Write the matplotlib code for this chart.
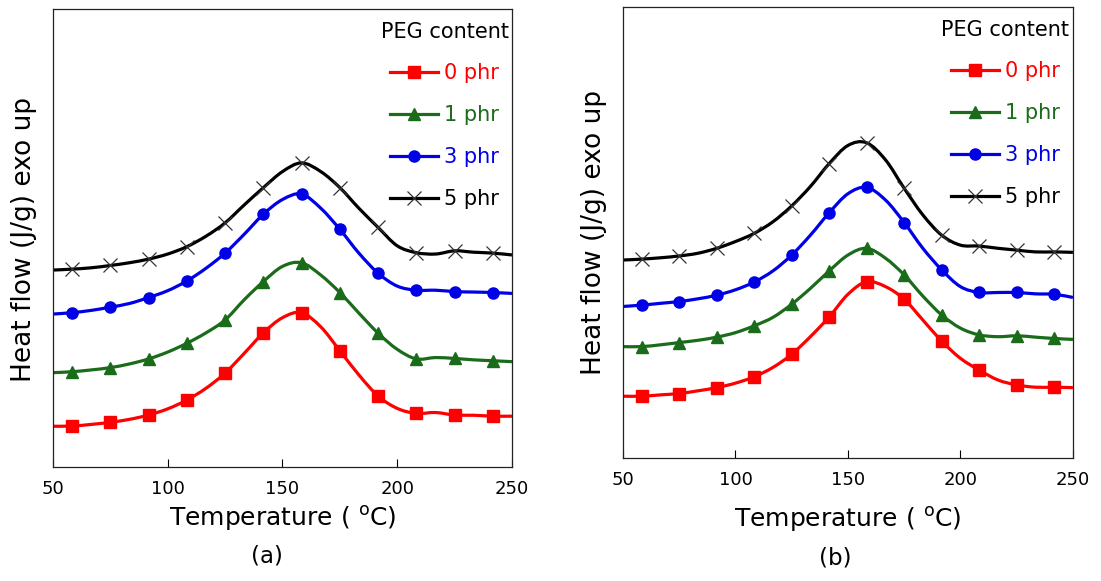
import matplotlib
matplotlib.use("Agg")
import matplotlib.pyplot as plt
from matplotlib.path import Path
from matplotlib.patches import PathPatch

plt.rcParams['font.family'] = ['DejaVu Sans']
plt.rcParams['mathtext.default'] = 'regular'

# temperature grid (markers sit on every other point)
temp = [50, 58.3, 66.7, 75, 83.3, 91.7, 100, 108.3, 116.7, 125, 133.3, 141.7, 150,
        158.3, 166.7, 175, 183.3, 191.7, 200, 208.3, 216.7, 225, 233.3, 241.7, 250]

labels = ['0 phr', '1 phr', '3 phr', '5 phr']

# panel (a), arbitrary heat-flow units (axis runs 0..100)
a_0phr = [8.9, 8.95, 9.3, 9.76, 10.4, 11.35, 12.7, 14.6, 17.2, 20.5, 24.8, 29.3, 32.6,
          33.7, 30.6, 25.4, 20.1, 15.5, 12.8, 11.7, 11.9, 11.35, 11.3, 11.1, 11.1]
a_1phr = [20.6, 20.8, 21.2, 21.7, 22.5, 23.6, 25.1, 27.0, 29.3, 32.1, 36.5, 40.5, 43.8,
          44.6, 41.9, 38.1, 33.6, 29.2, 25.7, 23.6, 23.9, 23.7, 23.4, 23.2, 23.0]
a_3phr = [33.4, 33.7, 34.2, 34.9, 35.7, 37.0, 38.5, 40.6, 43.4, 46.7, 50.8, 55.2, 58.4,
          59.6, 56.5, 51.9, 46.7, 42.3, 39.5, 38.6, 38.6, 38.3, 38.2, 38.1, 37.9]
a_5phr = [43.0, 43.2, 43.5, 44.0, 44.6, 45.4, 46.5, 48.1, 50.4, 53.3, 57.2, 61.0, 64.5,
          66.4, 64.5, 61.0, 56.5, 52.3, 48.3, 46.8, 46.5, 47.2, 46.9, 46.7, 46.3]

# panel (b)
b_0phr = [13.7, 13.7, 14.0, 14.3, 14.9, 15.6, 16.6, 18.0, 20.1, 23.0, 26.9, 31.3, 36.3,
          39.1, 38.0, 35.2, 30.6, 25.9, 22.1, 19.5, 17.3, 16.2, 15.7, 15.7, 15.6]
b_1phr = [24.7, 24.7, 25.1, 25.6, 26.1, 26.8, 27.8, 29.3, 31.2, 34.1, 37.6, 41.5, 45.0,
          46.5, 44.3, 40.6, 35.9, 31.7, 28.8, 27.3, 26.9, 27.1, 26.8, 26.5, 26.3]
b_3phr = [33.6, 33.9, 34.3, 34.7, 35.3, 36.1, 37.3, 39.0, 41.5, 45.0, 49.4, 54.4, 58.6,
          60.0, 57.2, 52.2, 46.5, 41.7, 38.0, 36.7, 36.7, 36.7, 36.4, 36.3, 35.6]
b_5phr = [43.9, 44.1, 44.4, 44.8, 45.4, 46.5, 48.0, 49.8, 52.4, 55.9, 60.2, 65.3, 69.3,
          69.9, 66.1, 59.8, 53.9, 49.4, 47.2, 47.0, 46.5, 46.1, 45.7, 45.7, 45.6]

colors = ['#ff0000', '#1a6b1a', '#0000e6', '#000000']
markers = ['s', '^', 'o', 'x']
msizes = [8, 8, 8, 10]
LW = 2.3


def smooth_path(x, y):
    # Catmull-Rom style cubic bezier through every read point
    n = len(x)
    verts = [(x[0], y[0])]
    codes = [Path.MOVETO]
    for i in range(n - 1):
        i0 = max(i - 1, 0)
        i3 = min(i + 2, n - 1)
        c1 = (x[i] + (x[i + 1] - x[i0]) / 6, y[i] + (y[i + 1] - y[i0]) / 6)
        c2 = (x[i + 1] - (x[i3] - x[i]) / 6, y[i + 1] - (y[i3] - y[i]) / 6)
        verts += [c1, c2, (x[i + 1], y[i + 1])]
        codes += [Path.CURVE4] * 3
    return Path(verts, codes)


def draw_panel(ax, series):
    for y, lab, c, m, ms in zip(series, labels, colors, markers, msizes):
        ax.add_patch(PathPatch(smooth_path(temp, y), fill=False, edgecolor=c,
                               lw=LW, transform=ax.transData))
        mk = dict(color=c, marker=m, ms=ms)
        if m == 'x':
            mk.update(mew=0.9, mec='#333333')
        ax.plot(temp[1::2], y[1::2], ls='none', **mk)
        # legend proxy
        ax.plot([], [], lw=LW, label=lab, **mk)
    ax.set_xlim(50, 250)
    ax.set_ylim(0, 100)
    ax.set_xticks([50, 100, 150, 200, 250])
    ax.set_yticks([])
    ax.tick_params(axis='x', direction='in', length=6, width=0.8, pad=9, labelsize=13)
    for s in ax.spines.values():
        s.set_linewidth(0.9)
        s.set_color('#222222')
    ax.set_xlabel('Temperature ( $^{o}$C)', fontsize=18)
    ax.set_ylabel('Heat flow (J/g) exo up', fontsize=19)
    ax.legend(loc='upper right', bbox_to_anchor=(1.02, 1.0), frameon=False,
              title='PEG content', title_fontsize=15, fontsize=15,
              labelcolor='linecolor', handlelength=2.3, handletextpad=0.3,
              labelspacing=1.05, alignment='center', borderaxespad=0.2)


fig = plt.figure(figsize=(11.01, 5.81), dpi=100)
ax_a = fig.add_axes([0.0481, 0.1962, 0.4169, 0.7883])
ax_b = fig.add_axes([0.5658, 0.2117, 0.4087, 0.7762])

draw_panel(ax_a, [a_0phr, a_1phr, a_3phr, a_5phr])
draw_panel(ax_b, [b_0phr, b_1phr, b_3phr, b_5phr])

ax_a.yaxis.set_label_coords(-0.035, 0.496)
ax_b.yaxis.set_label_coords(-0.036, 0.5)
ax_a.xaxis.set_label_coords(0.5, -0.081)
ax_b.xaxis.set_label_coords(0.5, -0.104)

fig.text(267 / 1101, 1 - 556 / 581, '(a)', fontsize=16.5, ha='center', va='center')
fig.text(835 / 1101, 1 - 558 / 581, '(b)', fontsize=16.5, ha='center', va='center')

fig.savefig('out.png', dpi=100)
